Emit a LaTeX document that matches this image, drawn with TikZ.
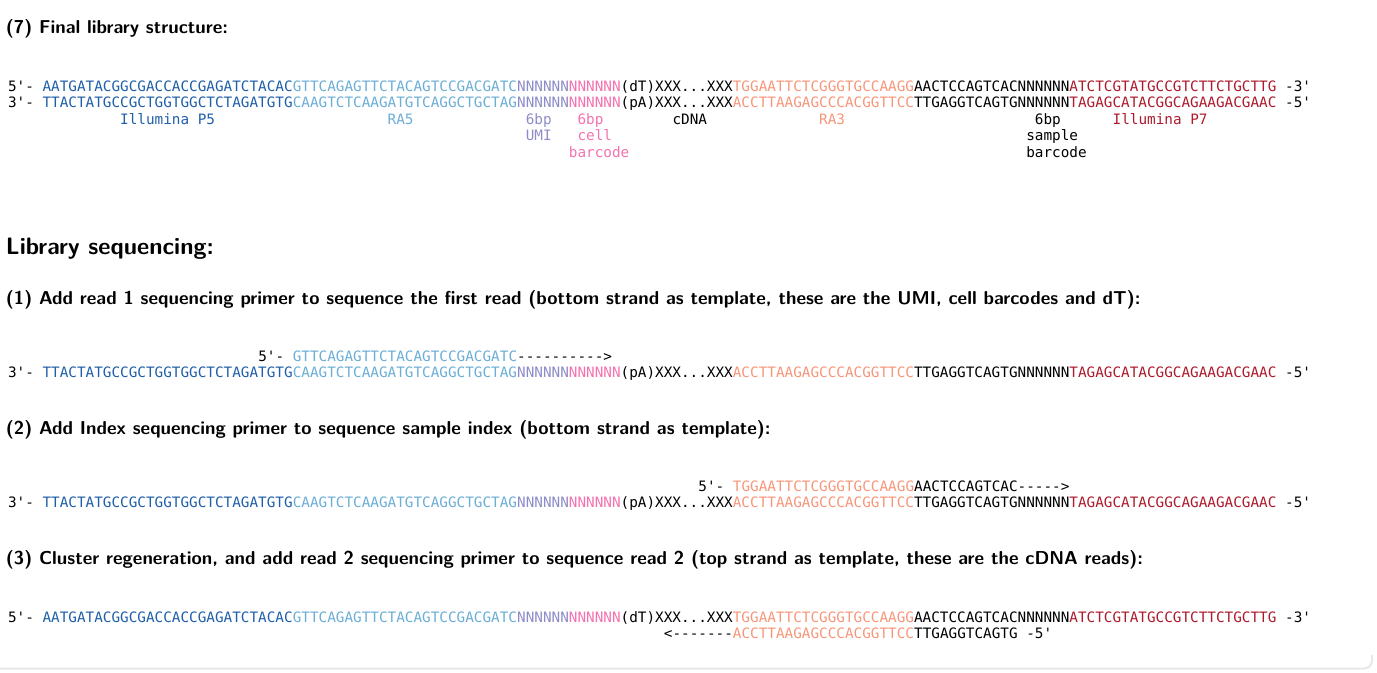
\documentclass[tikz,border=0pt]{standalone}
\usepackage{fontspec}
\setmonofont{DejaVu Sans Mono}

\definecolor{pfive}{HTML}{1F5FAA}
\definecolor{rafive}{HTML}{6BAED6}
\definecolor{umi}{HTML}{8E8CC8}
\definecolor{cellbc}{HTML}{F472B0}
\definecolor{rathree}{HTML}{F7967A}
\definecolor{pseven}{HTML}{AD1A2C}

\newcommand{\Pfive}[1]{\textcolor{pfive}{#1}}
\newcommand{\Rfive}[1]{\textcolor{rafive}{#1}}
\newcommand{\Umi}[1]{\textcolor{umi}{#1}}
\newcommand{\Cbc}[1]{\textcolor{cellbc}{#1}}
\newcommand{\Rthree}[1]{\textcolor{rathree}{#1}}
\newcommand{\Pseven}[1]{\textcolor{pseven}{#1}}

\begin{document}
\begin{tikzpicture}[x=0.75pt,y=-0.75pt,every node/.style={inner sep=0pt, outer sep=0pt, anchor=base west},
  seq/.style={font=\ttfamily\fontsize{10.75}{12}\selectfont},
  head/.style={font=\sffamily\bfseries\fontsize{14}{16}\selectfont},
  bighead/.style={font=\sffamily\bfseries\fontsize{17.8}{21}\selectfont}]
\useasboundingbox (0,0) rectangle (1377,672);
\draw[gray!18,line width=1.5pt] (0,668.5) -- (1364,668.5) arc[start angle=90,end angle=0,radius=8] -- (1372,655);

% (7) final library
\node[head] (final) at (6,33.3) {(7) Final library structure:};
\node[seq] (libtop) at (8,91) {5'- \Pfive{AATGATACGGCGACCACCGAGATCTACAC}\Rfive{GTTCAGAGTTCTACAGTCCGACGATC}\Umi{NNNNNN}\Cbc{NNNNNN}(dT)XXX...XXX\Rthree{TGGAATTCTCGGGTGCCAAGG}AACTCCAGTCACNNNNNN\Pseven{ATCTCGTATGCCGTCTTCTGCTTG} -3'};
\node[seq] (libbot) at (8,107.6) {3'- \Pfive{TTACTATGCCGCTGGTGGCTCTAGATGTG}\Rfive{CAAGTCTCAAGATGTCAGGCTGCTAG}\Umi{NNNNNN}\Cbc{NNNNNN}(pA)XXX...XXX\Rthree{ACCTTAAGAGCCCACGGTTCC}TTGAGGTCAGTGNNNNNN\Pseven{TAGAGCATACGGCAGAAGACGAAC} -5'};

\node[seq,pfive] (lp5) at ({8+13*8.63},124.2) {Illumina P5};
\node[seq,rafive] (lra5) at ({8+44*8.63},124.2) {RA5};
\node[seq,umi] (lumi1) at ({8+60*8.63},124.2) {6bp};
\node[seq,umi] (lumi2) at ({8+60*8.63},140.8) {UMI};
\node[seq,cellbc] (lcb1) at ({8+66*8.63},124.2) {6bp};
\node[seq,cellbc] (lcb2) at ({8+66*8.63},140.8) {cell};
\node[seq,cellbc] (lcb3) at ({8+65*8.63},157.4) {barcode};
\node[seq] (lcdna) at ({8+77*8.63},124.2) {cDNA};
\node[seq,rathree] (lra3) at ({8+94*8.63},124.2) {RA3};
\node[seq] (lsb1) at ({8+119*8.63},124.2) {6bp};
\node[seq] (lsb2) at ({8+118*8.63},140.8) {sample};
\node[seq] (lsb3) at ({8+118*8.63},157.4) {barcode};
\node[seq,pseven] (lp7) at ({8+128*8.63},124.2) {Illumina P7};

% sequencing
\node[bighead] (seqhead) at (6,254) {Library sequencing:};

\node[head] (readone) at (6,304) {(1) Add read 1 sequencing primer to sequence the first read (bottom strand as template, these are the UMI, cell barcodes and dT):};
\node[seq] (primone) at ({8+29*8.63},361) {5'- \Rfive{GTTCAGAGTTCTACAGTCCGACGATC}---------->};
\node[seq] (botone) at (8,377.6) {3'- \Pfive{TTACTATGCCGCTGGTGGCTCTAGATGTG}\Rfive{CAAGTCTCAAGATGTCAGGCTGCTAG}\Umi{NNNNNN}\Cbc{NNNNNN}(pA)XXX...XXX\Rthree{ACCTTAAGAGCCCACGGTTCC}TTGAGGTCAGTGNNNNNN\Pseven{TAGAGCATACGGCAGAAGACGAAC} -5'};

\node[head] (index) at (6,434) {(2) Add Index sequencing primer to sequence sample index (bottom strand as template):};
\node[seq] (primtwo) at ({8+80*8.63},491) {5'- \Rthree{TGGAATTCTCGGGTGCCAAGG}AACTCCAGTCAC----->};
\node[seq] (bottwo) at (8,507.6) {3'- \Pfive{TTACTATGCCGCTGGTGGCTCTAGATGTG}\Rfive{CAAGTCTCAAGATGTCAGGCTGCTAG}\Umi{NNNNNN}\Cbc{NNNNNN}(pA)XXX...XXX\Rthree{ACCTTAAGAGCCCACGGTTCC}TTGAGGTCAGTGNNNNNN\Pseven{TAGAGCATACGGCAGAAGACGAAC} -5'};

\node[head] (readtwo) at (6,564) {(3) Cluster regeneration, and add read 2 sequencing primer to sequence read 2 (top strand as template, these are the cDNA reads):};
\node[seq] (topthree) at (8,622) {5'- \Pfive{AATGATACGGCGACCACCGAGATCTACAC}\Rfive{GTTCAGAGTTCTACAGTCCGACGATC}\Umi{NNNNNN}\Cbc{NNNNNN}(dT)XXX...XXX\Rthree{TGGAATTCTCGGGTGCCAAGG}AACTCCAGTCACNNNNNN\Pseven{ATCTCGTATGCCGTCTTCTGCTTG} -3'};
\node[seq] (primthree) at ({8+76*8.63},638.6) {<-------\Rthree{ACCTTAAGAGCCCACGGTTCC}TTGAGGTCAGTG -5'};
\end{tikzpicture}
\end{document}
